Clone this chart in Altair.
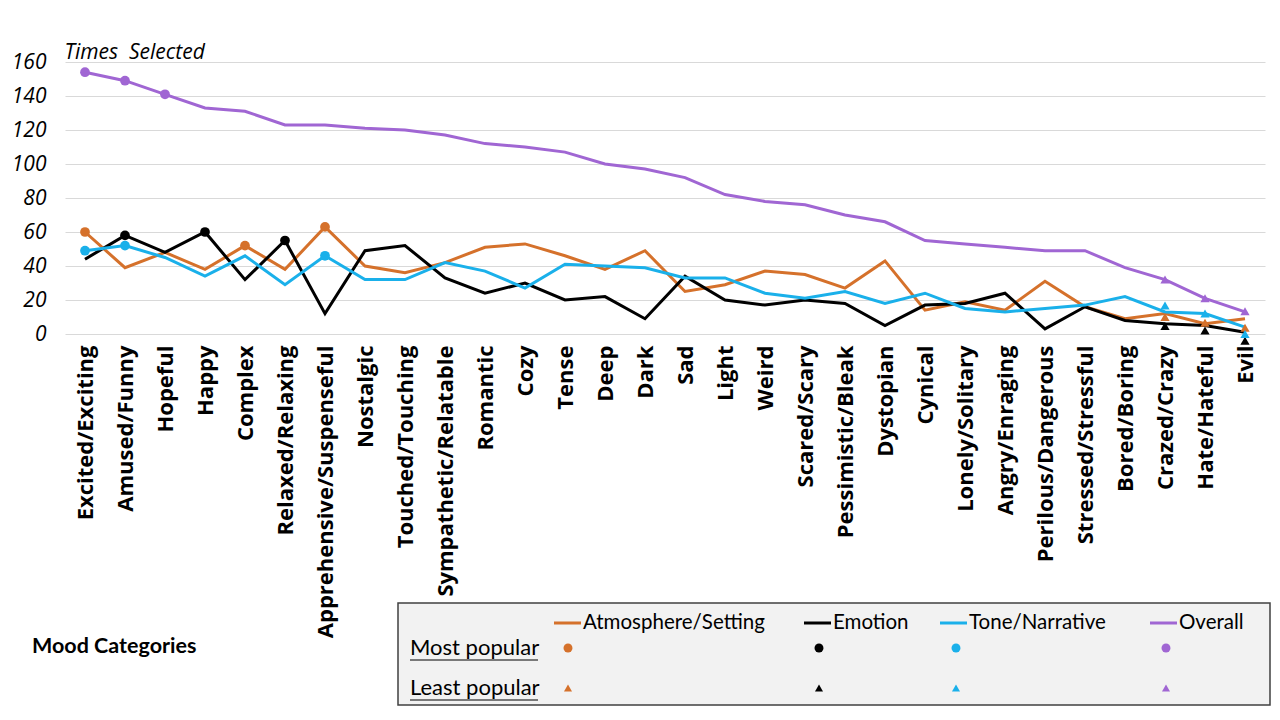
import altair as alt
import pandas as pd

categories = ["Excited/Exciting", "Amused/Funny", "Hopeful", "Happy", "Complex",
              "Relaxed/Relaxing", "Apprehensive/Suspenseful", "Nostalgic",
              "Touched/Touching", "Sympathetic/Relatable", "Romantic", "Cozy",
              "Tense", "Deep", "Dark", "Sad", "Light", "Weird", "Scared/Scary",
              "Pessimistic/Bleak", "Dystopian", "Cynical", "Lonely/Solitary",
              "Angry/Enraging", "Perilous/Dangerous", "Stressed/Stressful",
              "Bored/Boring", "Crazed/Crazy", "Hate/Hateful", "Evil"]

atmosphere = [60, 39, 48, 38, 52, 38, 63, 40, 36, 42, 51, 53, 46, 38, 49, 25, 29,
              37, 35, 27, 43, 14, 19, 14, 31, 16, 9, 12, 6, 9]
emotion = [44, 58, 48, 60, 32, 55, 12, 49, 52, 33, 24, 30, 20, 22, 9, 34, 20,
           17, 20, 18, 5, 17, 18, 24, 3, 16, 8, 6, 5, 1]
tone = [49, 52, 45, 34, 46, 29, 46, 32, 32, 42, 37, 27, 41, 40, 39, 33, 33,
        24, 21, 25, 18, 24, 15, 13, 15, 17, 22, 13, 12, 4]
overall = [154, 149, 141, 133, 131, 123, 123, 121, 120, 117, 112, 110, 107, 100,
           97, 92, 82, 78, 76, 70, 66, 55, 53, 51, 49, 49, 39, 32, 21, 13]

series_names = ["Atmosphere/Setting", "Emotion", "Tone/Narrative", "Overall"]
series_colors = ["#D5712B", "#000000", "#1AB0EA", "#A066D3"]

# most popular markers (circles)
most_cat = [["Excited/Exciting", "Complex", "Apprehensive/Suspenseful"],
            ["Amused/Funny", "Happy", "Relaxed/Relaxing"],
            ["Excited/Exciting", "Amused/Funny", "Apprehensive/Suspenseful"],
            ["Excited/Exciting", "Amused/Funny", "Hopeful"]]
most_val = [[60, 52, 63], [58, 60, 55], [49, 52, 46], [154, 149, 141]]

# least popular markers (triangles)
least_cat = ["Crazed/Crazy", "Hate/Hateful", "Evil"]
least_val = [[10, 6.6, 3.7], [4.7, 2.1, -4], [16.7, 12, 0], [32, 21, 13.4]]

yticks = [0, 20, 40, 60, 80, 100, 120, 140, 160]

rows = []
for name, vals in zip(series_names, [atmosphere, emotion, tone, overall]):
    for i, (c, v) in enumerate(zip(categories, vals)):
        rows.append({"cat": c, "series": name, "value": v, "order": i})
df = pd.DataFrame(rows)

mrows = []
for name, cs, vs in zip(series_names, most_cat, most_val):
    for c, v in zip(cs, vs):
        mrows.append({"cat": c, "series": name, "value": v})
mdf = pd.DataFrame(mrows)

lrows = []
for name, vs in zip(series_names, least_val):
    for c, v in zip(least_cat, vs):
        lrows.append({"cat": c, "series": name, "value": v})
ldf = pd.DataFrame(lrows)

W, H = 1200, 272
FONT = "Open Sans"
LFONT = "Lato"

xscale = alt.Scale(type="point", padding=0.5, domain=categories)
yscale = alt.Scale(domain=[0, 160], nice=False, zero=False)
cscale = alt.Scale(domain=series_names, range=series_colors)

x_axis = alt.Axis(title=None, labelAngle=-90, labelAlign="right",
                  labelBaseline="middle", labelFont=FONT,
                  labelFontSize=22, labelFontWeight="bold",
                  labelColor="#000000", labelPadding=11,
                  domain=False, ticks=False, grid=False,
                  labelOverlap=False, labelLimit=400)
y_axis = alt.Axis(title="Times\u00a0 Selected", titleAngle=0,
                  titleAlign="left", titleBaseline="alphabetic",
                  titleX=-1, titleY=-4, titleFont=FONT,
                  titleFontStyle="italic", titleFontWeight="normal",
                  titleFontSize=21, titleColor="#000000",
                  values=yticks, labelOverlap=False, labelFont=FONT,
                  labelFontStyle="italic", labelFontSize=21,
                  labelColor="#000000", labelPadding=19,
                  domain=False, ticks=False, gridColor="#D9D9D9",
                  gridWidth=1.2)

def xe():
    return alt.X("cat:N", scale=xscale, sort=categories, axis=x_axis)

def ye():
    return alt.Y("value:Q", scale=yscale, axis=y_axis)

lines = alt.Chart(df).mark_line(strokeWidth=3).encode(
    x=xe(), y=ye(),
    color=alt.Color("series:N", scale=cscale, legend=None),
    order="order:Q",
    detail="series:N",
)

circles = alt.Chart(mdf).mark_point(shape="circle", filled=True, size=95,
                                    opacity=1).encode(
    x=xe(), y=ye(),
    color=alt.Color("series:N", scale=cscale, legend=None),
)

tris = alt.Chart(ldf).mark_point(shape="triangle-up", filled=True, size=85,
                                 opacity=1).encode(
    x=xe(), y=ye(),
    color=alt.Color("series:N", scale=cscale, legend=None),
)

one = pd.DataFrame({"a": [0]})

layers = [lines, circles, tris]

# legend box
layers.append(alt.Chart(one).mark_rect(fill="#F2F2F2", stroke="#404040",
                                       strokeWidth=1.5).encode(
    x=alt.value(333), x2=alt.value(1205), y=alt.value(541), y2=alt.value(643)))

sw_x = [489, 739, 875, 1085]
mk_x = [503, 754, 891, 1101]
for name, col, sx, mx in zip(series_names, series_colors, sw_x, mk_x):
    layers.append(alt.Chart(one).mark_rule(color=col, strokeWidth=3).encode(
        x=alt.value(sx), x2=alt.value(sx + 27), y=alt.value(561)))
    layers.append(alt.Chart(one).mark_text(
        text=name, align="left", baseline="middle", font=LFONT, fontSize=20.5,
        color="#000000").encode(x=alt.value(sx + 29), y=alt.value(561)))
    layers.append(alt.Chart(one).mark_point(
        shape="circle", filled=True, size=80, color=col, opacity=1).encode(
        x=alt.value(mx), y=alt.value(586)))
    layers.append(alt.Chart(one).mark_point(
        shape="triangle-up", filled=True, size=65, color=col, opacity=1).encode(
        x=alt.value(mx), y=alt.value(626)))

for label, ty in [("Most popular", 586), ("Least popular", 626)]:
    layers.append(alt.Chart(one).mark_text(
        text=label, align="left", baseline="middle", font=LFONT, fontSize=22,
        color="#000000").encode(x=alt.value(345), y=alt.value(ty)))
    layers.append(alt.Chart(one).mark_rule(color="#000000", strokeWidth=1.2).encode(
        x=alt.value(345), x2=alt.value(473), y=alt.value(ty + 12)))

layers.append(alt.Chart(one).mark_text(
    text="Mood Categories", align="left", baseline="middle", font=LFONT,
    fontSize=21.5, fontWeight="bold", color="#000000").encode(
    x=alt.value(-33), y=alt.value(585)))

chart = alt.layer(*layers).properties(
    width=W, height=H,
    autosize=alt.AutoSizeParams(type="none"),
    padding={"left": 57, "top": 54, "right": 7, "bottom": 380},
    background="#FFFFFF",
).configure_view(stroke=None)

chart.save("out.html", embed_options={"renderer": "svg", "actions": False})
